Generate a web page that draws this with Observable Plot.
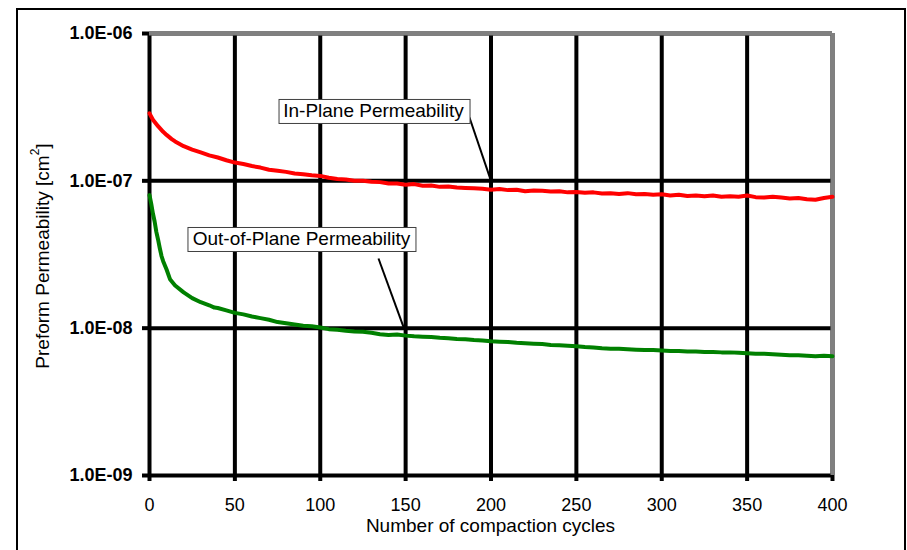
<!DOCTYPE html>
<html><head><meta charset="utf-8">
<script src="https://cdn.jsdelivr.net/npm/d3@7"></script>
<script src="https://cdn.jsdelivr.net/npm/@observablehq/plot@0.6"></script>
<style>
html,body{margin:0;padding:0;background:#fff;overflow:hidden;width:907px;height:550px;}
#frame{position:absolute;left:16px;top:8px;width:886px;height:600px;border:2px solid #000;}
#chart{position:absolute;left:0;top:0;}
</style></head><body>
<div id="frame"></div><div id="chart"></div>
<script>
// ---- data ----
const inPlaneCycles = [0,2,5,8,10,13,15,20,25,30,35,40,45,50,55,60,65,70,75,80,85,90,95,100,105,110,115,120,125,130,135,140,145,150,155,160,165,170,175,180,185,190,195,200,205,210,215,220,225,230,235,240,245,250,255,260,265,270,275,280,285,290,295,300,305,310,315,320,325,330,335,340,345,350,355,360,365,370,375,380,385,390,395,400];
const inPlaneValues = [2.87e-7,2.6e-7,2.35e-7,2.15e-7,2.05e-7,1.92e-7,1.85e-7,1.72e-7,1.63e-7,1.56e-7,1.49e-7,1.44e-7,1.38e-7,1.33e-7,1.30e-7,1.26e-7,1.23e-7,1.19e-7,1.17e-7,1.15e-7,1.12e-7,1.11e-7,1.09e-7,1.08e-7,1.05e-7,1.03e-7,1.02e-7,1.0e-7,1.0e-7,9.85e-8,9.8e-8,9.6e-8,9.6e-8,9.4e-8,9.5e-8,9.25e-8,9.3e-8,9.1e-8,9.15e-8,9.0e-8,8.95e-8,8.9e-8,8.85e-8,8.7e-8,8.8e-8,8.65e-8,8.7e-8,8.5e-8,8.6e-8,8.55e-8,8.45e-8,8.5e-8,8.35e-8,8.4e-8,8.3e-8,8.35e-8,8.2e-8,8.25e-8,8.15e-8,8.25e-8,8.1e-8,8.15e-8,8.05e-8,8.1e-8,7.95e-8,8.05e-8,7.9e-8,7.95e-8,7.85e-8,7.95e-8,7.8e-8,7.85e-8,7.8e-8,7.95e-8,7.75e-8,7.7e-8,7.8e-8,7.7e-8,7.6e-8,7.65e-8,7.5e-8,7.45e-8,7.65e-8,7.8e-8];
const outPlaneCycles = [0,1,2,3,4,5,6,7,8,10,12,15,20,25,30,35,38,40,45,50,55,60,65,70,75,80,85,90,95,100,105,110,115,120,125,130,135,140,145,150,155,160,165,170,175,180,185,190,195,200,205,210,215,220,225,230,235,240,245,250,255,260,265,270,275,280,285,290,295,300,305,310,315,320,325,330,335,340,345,350,355,360,365,370,375,380,385,390,395,400];
const outPlaneValues = [8.0e-8,7.0e-8,6.0e-8,5.3e-8,4.5e-8,4.0e-8,3.5e-8,3.1e-8,2.85e-8,2.5e-8,2.15e-8,1.95e-8,1.75e-8,1.6e-8,1.5e-8,1.43e-8,1.38e-8,1.37e-8,1.32e-8,1.27e-8,1.24e-8,1.2e-8,1.17e-8,1.14e-8,1.1e-8,1.08e-8,1.06e-8,1.04e-8,1.03e-8,1.01e-8,9.85e-9,9.75e-9,9.6e-9,9.5e-9,9.45e-9,9.3e-9,9.1e-9,9.0e-9,9.05e-9,8.9e-9,8.8e-9,8.75e-9,8.7e-9,8.6e-9,8.55e-9,8.45e-9,8.4e-9,8.3e-9,8.25e-9,8.15e-9,8.1e-9,8.05e-9,7.95e-9,7.9e-9,7.85e-9,7.8e-9,7.7e-9,7.65e-9,7.6e-9,7.55e-9,7.45e-9,7.4e-9,7.3e-9,7.25e-9,7.25e-9,7.2e-9,7.15e-9,7.1e-9,7.1e-9,7.05e-9,7.0e-9,7.0e-9,6.95e-9,6.95e-9,6.9e-9,6.9e-9,6.85e-9,6.85e-9,6.8e-9,6.75e-9,6.7e-9,6.7e-9,6.65e-9,6.6e-9,6.55e-9,6.55e-9,6.5e-9,6.45e-9,6.5e-9,6.45e-9];

const xTicks = [0,50,100,150,200,250,300,350,400];
const xTickLabels = ["0","50","100","150","200","250","300","350","400"];
const yTicks = [1e-9,1e-8,1e-7,1e-6];
const yTickLabels = ["1.0E-09","1.0E-08","1.0E-07","1.0E-06"];
const xTitle = "Number of compaction cycles";
const yTitleMain = "Preform Permeability [cm";
const yTitleSup = "2";
const yTitleEnd = "]";

const annLabels = ["In-Plane Permeability","Out-of-Plane Permeability"];
const annX = [131.2, 89];
const annY = [2.98e-7, 4.03e-8];
const leaderX1 = [187.4, 134.1];
const leaderY1 = [2.69e-7, 2.97e-8];
const leaderX2 = [200, 149];
const leaderY2 = [1.0e-7, 1.0e-8];

// ---- build tables ----
const inPlane = inPlaneCycles.map((c,i)=>({x:c,y:inPlaneValues[i]}));
const outPlane = outPlaneCycles.map((c,i)=>({x:c,y:outPlaneValues[i]}));
const anns = annLabels.map((t,i)=>({text:t,x:annX[i],y:annY[i],x1:leaderX1[i],y1:leaderY1[i],x2:leaderX2[i],y2:leaderY2[i]}));

const FONT = "'Liberation Sans', Arial, Helvetica, sans-serif";

const plot = Plot.plot({
  width: 907, height: 550,
  marginLeft: 149, marginRight: 75, marginTop: 33, marginBottom: 75,
  style: {fontFamily: FONT, background: "transparent", color: "black"},
  x: {domain: [0, 400]},
  y: {type: "log", domain: [1e-9, 1e-6]},
  marks: [
    Plot.ruleX(xTicks, {stroke: "black", strokeWidth: 4}),
    Plot.ruleY(yTicks, {stroke: "black", strokeWidth: 4}),
    Plot.ruleX(xTicks.slice(-1), {stroke: "#808080", strokeWidth: 4}),
    Plot.ruleY(yTicks.slice(-1), {stroke: "#808080", strokeWidth: 4}),
    Plot.axisY({ticks: yTicks, tickSize: 7, tickPadding: 10, strokeWidth: 4, fontSize: 18, fontWeight: "bold",
      tickFormat: d => yTickLabels[yTicks.indexOf(d)], label: null}),
    Plot.axisX({ticks: xTicks, tickSize: 6, tickPadding: 17, strokeWidth: 4, fontSize: 18,
      tickFormat: d => xTickLabels[xTicks.indexOf(d)], label: null}),
    Plot.line(inPlane, {x: "x", y: "y", stroke: "#ff0000", strokeWidth: 4}),
    Plot.line(outPlane, {x: "x", y: "y", stroke: "#008000", strokeWidth: 4}),
    Plot.link(anns, {x1: "x1", y1: "y1", x2: "x2", y2: "y2", stroke: "black", strokeWidth: 2}),
    Plot.text(anns, {x: "x", y: "y", text: "text", fontSize: 19, fill: "black"})
  ]
});

document.getElementById("chart").append(plot);
const svg = d3.select(plot);

// boxes behind annotation labels
svg.selectAll('g[aria-label="text"] text').each(function(){
  const node = this;
  const b = node.getBBox();
  const r = d3.select(node.parentNode).insert("rect", () => node)
    .attr("x", Math.round(b.x - 5) + 0.5)
    .attr("y", Math.round(b.y - 1.5) + 0.5)
    .attr("width", Math.round(b.width + 10))
    .attr("height", Math.round(b.height + 3))
    .attr("fill", "white").attr("stroke", "#404040").attr("stroke-width", 1);
  const tr = node.getAttribute("transform");
  if (tr) r.attr("transform", tr);
});

// axis titles
svg.append("text").attr("x", 490.5).attr("y", 532).attr("text-anchor", "middle")
  .attr("font-family", FONT).attr("font-size", 19).attr("fill", "black").text(xTitle);

const yt = svg.append("text").attr("transform", "translate(49,256) rotate(-90)")
  .attr("text-anchor", "middle").attr("font-family", FONT).attr("font-size", 19).attr("fill", "black");
yt.append("tspan").text(yTitleMain);
yt.append("tspan").attr("font-size", 12).attr("dy", -10).text(yTitleSup);
yt.append("tspan").attr("dy", 10).text(yTitleEnd);
</script>
</body></html>
